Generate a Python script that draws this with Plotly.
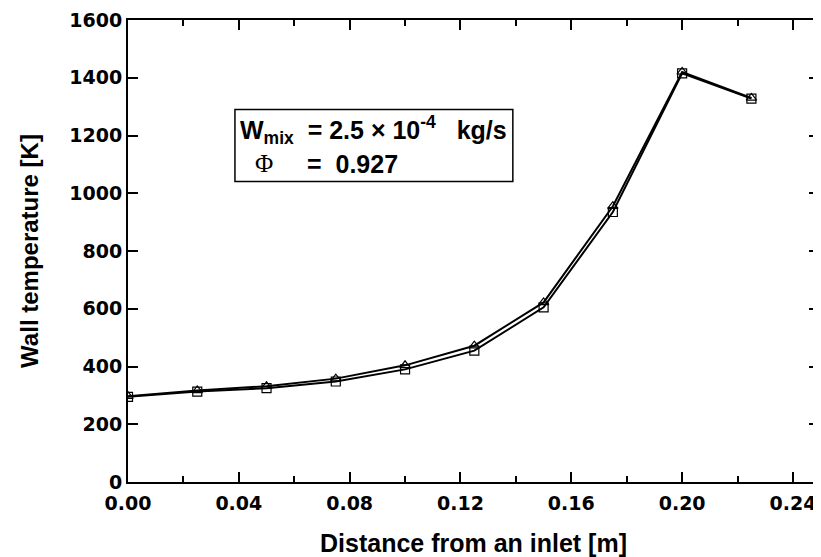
import plotly.graph_objects as go

# Data
distance = [0.0, 0.025, 0.05, 0.075, 0.10, 0.125, 0.15, 0.175, 0.20, 0.225]
temp_square = [295, 313, 325, 348, 390, 455, 605, 935, 1415, 1328]
temp_triangle = [297, 317, 332, 358, 404, 472, 622, 955, 1420, 1330]

x_ticks = [0.00, 0.04, 0.08, 0.12, 0.16, 0.20, 0.24]
y_ticks = [0, 200, 400, 600, 800, 1000, 1200, 1400, 1600]

TICK_FONT = dict(family="DejaVu Sans, sans-serif", size=19, color="black", weight="bold")
BOX_FONT = dict(family="Liberation Sans, Arial, sans-serif", size=25, color="black", weight="bold")
NB = "\u00a0"

fig = go.Figure()
fig.add_trace(go.Scatter(
    x=distance, y=temp_triangle, mode="lines+markers",
    line=dict(color="black", width=2),
    marker=dict(symbol="triangle-up-open", size=9, color="black", line=dict(width=1.2)),
    showlegend=False,
))
fig.add_trace(go.Scatter(
    x=distance, y=temp_square, mode="lines+markers",
    line=dict(color="black", width=2),
    marker=dict(symbol="square-open", size=9, color="black", line=dict(width=1.2)),
    showlegend=False,
))

# annotation box
fig.add_shape(type="rect", xref="x", yref="y", x0=0.0386, x1=0.1389, y0=1041, y1=1290,
              line=dict(color="black", width=1.5), fillcolor="white", layer="below")
fig.add_annotation(xref="x", yref="y", x=0.0398, y=1219, xanchor="left", yanchor="middle",
                   text="W<sub>mix</sub>" + NB + NB + "=" + NB + "2.5" + NB + "\u00d7" + NB + "10<sup>-4</sup>" + NB + NB + NB + "kg/s",
                   showarrow=False, font=BOX_FONT)
fig.add_annotation(xref="x", yref="y", x=0.0450, y=1104, xanchor="left", yanchor="middle",
                   text="\u03a6", showarrow=False,
                   font=dict(family="Liberation Serif, serif", size=25, color="black"))
fig.add_annotation(xref="x", yref="y", x=0.0640, y=1100, xanchor="left", yanchor="middle",
                   text="=" + NB + NB + "0.927", showarrow=False, font=BOX_FONT)

fig.update_xaxes(
    range=[0, 0.2494], tickvals=x_ticks, tickformat=".2f",
    ticks="inside", ticklen=10, tickwidth=1.5, tickcolor="black",
    minor=dict(dtick=0.02, ticks="inside", ticklen=6, tickwidth=1.5, tickcolor="black"),
    showline=True, linecolor="black", linewidth=2, mirror="allticks",
    showgrid=False, zeroline=False, tickfont=TICK_FONT, ticklabelstandoff=3,
    title=dict(text="Distance from an inlet [m]", standoff=22,
               font=dict(family="Liberation Sans, Arial, sans-serif", size=25, color="black", weight="bold")),
    automargin=False,
)
fig.update_yaxes(
    range=[0, 1600], tickvals=y_ticks,
    ticks="inside", ticklen=10, tickwidth=1.5, tickcolor="black",
    showline=True, linecolor="black", linewidth=2, mirror="allticks",
    showgrid=False, zeroline=False, tickfont=TICK_FONT,
    title=dict(text=NB * 5 + "Wall temperature [K]", standoff=24,
               font=dict(family="Liberation Sans, Arial, sans-serif", size=24, color="black", weight="bold")),
    automargin=False,
)
# page shows the figure offset by the body's 8px margin, so the figure is sized to fit
fig.update_layout(
    width=813, height=549,
    margin=dict(l=120, r=2, t=12, b=75),
    paper_bgcolor="white", plot_bgcolor="white",
)
fig.write_html("out.html")
